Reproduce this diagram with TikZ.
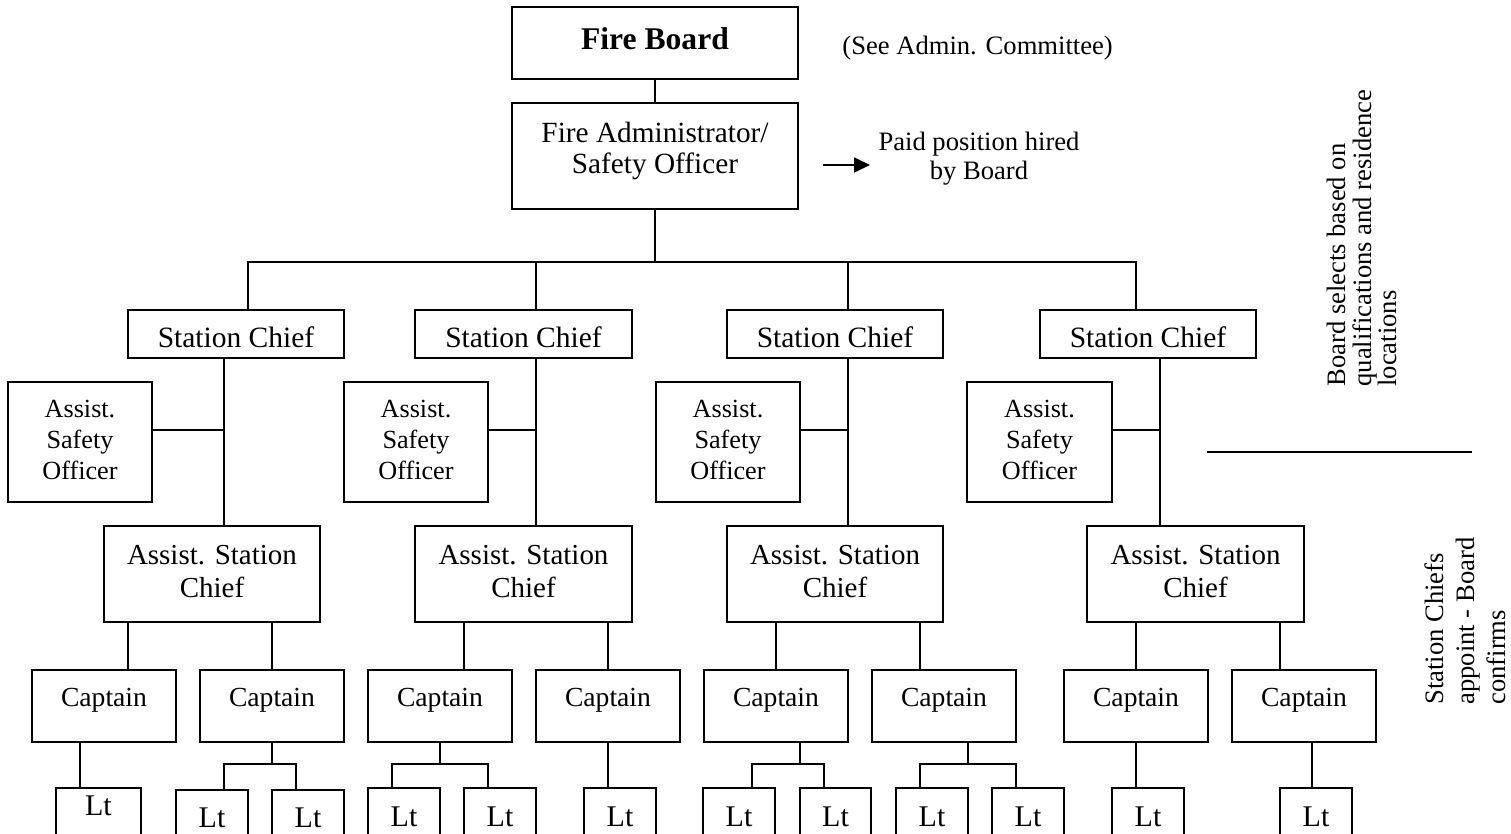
\documentclass[tikz,border=0pt]{standalone}
\usepackage{fontspec}
\setmainfont{Liberation Serif}
\usetikzlibrary{arrows.meta}
\newcommand\orgbox[7][]{%
  \node[box,#1,minimum width={(#5-#3)*0.5pt},minimum height={(#6-#4)*0.5pt}] (#2) at ({(#3+#5)/2},{(#4+#6)/2}) {#7};}
\begin{document}
\begin{tikzpicture}[x=0.5pt,y=-0.5pt,
  box/.style={draw, line width=0.95pt, inner sep=0pt, align=center},
  fbt/.style={font=\fontsize{15.8}{19}\selectfont\bfseries, text height=7pt, text depth=0pt},
  fat/.style={font=\fontsize{14.65}{15.65}\selectfont},
  sct/.style={font=\fontsize{14.75}{17}\selectfont, text height=14pt, text depth=0pt},
  asot/.style={font=\fontsize{13.1}{15.3}\selectfont},
  asct/.style={font=\fontsize{14.5}{16.5}\selectfont},
  capt/.style={font=\fontsize{13.8}{16}\selectfont, text height=9pt, text depth=8.3pt},
  ltt/.style={font=\fontsize{15}{17}\selectfont, text height=7pt, text depth=0pt},
  note/.style={font=\fontsize{13.3}{14.75}\selectfont, inner sep=0pt, align=center},
  side/.style={font=\fontsize{13.3}{12.75}\selectfont, inner sep=0pt, align=left, rotate=90, anchor=north west},
  link/.style={line width=0.9pt}]
\useasboundingbox (0,0) rectangle (1511,834);
\fill[white] (0,0) rectangle (1511,834);
\clip (0,0) rectangle (1511,834);

% top
\orgbox[fbt]{FB}{512}{7}{798}{79}{Fire Board}
\orgbox[fat]{FA}{512}{103}{798}{209}{Fire Administrator/\\Safety Officer\rule[-8.5pt]{0pt}{0pt}}
\node[note, anchor=base west] (see) at (842,55) {(See Admin. Committee)};
\node[note] (paid) at (979,158.5) {Paid position hired\\by Board};
\coordinate (arrS) at (823,165);
\coordinate (arrE) at (870,165);
\draw[link,-{Triangle[length=8pt,width=7.5pt]}] (arrS) -- (arrE);

% station chiefs
\orgbox[sct]{SC1}{128}{310}{344}{358}{Station Chief}
\orgbox[sct]{SC2}{415}{310}{632}{358}{Station Chief}
\orgbox[sct]{SC3}{727}{310}{943}{358}{Station Chief}
\orgbox[sct]{SC4}{1040}{310}{1256}{358}{Station Chief}

% assist. safety officers
\orgbox[asot]{ASO1}{8}{382}{152}{502}{Assist.\\Safety\\Officer\rule[-2.2pt]{0pt}{0pt}}
\orgbox[asot]{ASO2}{344}{382}{488}{502}{Assist.\\Safety\\Officer\rule[-2.2pt]{0pt}{0pt}}
\orgbox[asot]{ASO3}{656}{382}{800}{502}{Assist.\\Safety\\Officer\rule[-2.2pt]{0pt}{0pt}}
\orgbox[asot]{ASO4}{967}{382}{1112}{502}{Assist.\\Safety\\Officer\rule[-2.2pt]{0pt}{0pt}}

% assist. station chiefs
\orgbox[asct]{ASC1}{104}{526}{320}{622}{Assist. Station\\Chief\rule[-2.3pt]{0pt}{0pt}}
\orgbox[asct]{ASC2}{415}{526}{632}{622}{Assist. Station\\Chief\rule[-2.3pt]{0pt}{0pt}}
\orgbox[asct]{ASC3}{727}{526}{943}{622}{Assist. Station\\Chief\rule[-2.3pt]{0pt}{0pt}}
\orgbox[asct]{ASC4}{1087}{526}{1304}{622}{Assist. Station\\Chief\rule[-2.3pt]{0pt}{0pt}}

% captains
\orgbox[capt]{Cap1}{32}{670}{176}{742}{Captain}
\orgbox[capt]{Cap2}{200}{670}{344}{742}{Captain}
\orgbox[capt]{Cap3}{368}{670}{512}{742}{Captain}
\orgbox[capt]{Cap4}{536}{670}{680}{742}{Captain}
\orgbox[capt]{Cap5}{704}{670}{848}{742}{Captain}
\orgbox[capt]{Cap6}{872}{670}{1016}{742}{Captain}
\orgbox[capt]{Cap7}{1064}{670}{1208}{742}{Captain}
\orgbox[capt]{Cap8}{1232}{670}{1376}{742}{Captain}

% lieutenants
\orgbox[ltt,text depth=11pt]{Lt1}{56}{788}{141}{850}{Lt}
\orgbox[ltt]{Lt2}{176}{790}{248}{850}{Lt}
\orgbox[ltt]{Lt3}{272}{790}{344}{850}{Lt}
\orgbox[ltt]{Lt4}{368}{788}{440}{850}{Lt}
\orgbox[ltt]{Lt5}{464}{788}{536}{850}{Lt}
\orgbox[ltt]{Lt6}{584}{788}{656}{850}{Lt}
\orgbox[ltt]{Lt7}{703}{788}{775}{850}{Lt}
\orgbox[ltt]{Lt8}{800}{788}{871}{850}{Lt}
\orgbox[ltt]{Lt9}{896}{788}{968}{850}{Lt}
\orgbox[ltt]{Lt10}{992}{788}{1064}{850}{Lt}
\orgbox[ltt]{Lt11}{1112}{788}{1184}{850}{Lt}
\orgbox[ltt]{Lt12}{1280}{788}{1352}{850}{Lt}

% connectors: board to administrator to stations
\draw[link] (FB.south) -- (FA.north);
\coordinate (bL) at (248,262);
\coordinate (b2) at (536,262);
\coordinate (b3) at (848,262);
\coordinate (bR) at (1136,262);
\draw[link] (FA.south) -- (FA.south |- bL);
\draw[link] (bL |- SC1.north) -- (bL) -- (bR) -- (bR |- SC4.north);
\draw[link] (b2) -- (b2 |- SC2.north);
\draw[link] (b3) -- (b3 |- SC3.north);

% station chief to assist. station chief, with assist. safety officer
\coordinate (v1) at (224,430);
\coordinate (v2) at (536,430);
\coordinate (v3) at (848,430);
\coordinate (v4) at (1160,430);
\draw[link] (v1 |- SC1.south) -- (v1 |- ASC1.north);
\draw[link] (v2 |- SC2.south) -- (v2 |- ASC2.north);
\draw[link] (v3 |- SC3.south) -- (v3 |- ASC3.north);
\draw[link] (v4 |- SC4.south) -- (v4 |- ASC4.north);
\draw[link] (ASO1.east |- v1) -- (v1);
\draw[link] (ASO2.east |- v2) -- (v2);
\draw[link] (ASO3.east |- v3) -- (v3);
\draw[link] (ASO4.east |- v4) -- (v4);

% assist. station chief to captains
\foreach \p/\c/\x in {ASC1/Cap1/128, ASC1/Cap2/272, ASC2/Cap3/464, ASC2/Cap4/608,
                      ASC3/Cap5/776, ASC3/Cap6/920, ASC4/Cap7/1136, ASC4/Cap8/1280}
  \draw[link] (\x,0 |- \p.south) -- (\x,0 |- \c.north);

% captains to lieutenants
\draw[link] (80,0 |- Cap1.south) -- (80,0 |- Lt1.north);
\draw[link] (608,0 |- Cap4.south) -- (608,0 |- Lt6.north);
\draw[link] (1136,0 |- Cap7.south) -- (1136,0 |- Lt11.north);
\draw[link] (1312,0 |- Cap8.south) -- (1312,0 |- Lt12.north);
\coordinate (j2) at (272,764);
\coordinate (j3) at (440,764);
\coordinate (j5) at (800,764);
\coordinate (j6) at (968,764);
\draw[link] (j2 |- Cap2.south) -- (j2);
\draw[link] (224,0 |- Lt2.north) |- (j2 -| 296,0) -- (296,0 |- Lt3.north);
\draw[link] (j3 |- Cap3.south) -- (j3);
\draw[link] (392,0 |- Lt4.north) |- (j3 -| 488,0) -- (488,0 |- Lt5.north);
\draw[link] (j5 |- Cap5.south) -- (j5);
\draw[link] (752,0 |- Lt7.north) |- (j5 -| 824,0) -- (824,0 |- Lt8.north);
\draw[link] (j6 |- Cap6.south) -- (j6);
\draw[link] (920,0 |- Lt9.north) |- (j6 -| 1016,0) -- (1016,0 |- Lt10.north);

% right-hand notes
\node[side] (sel) at (1327,387) {Board selects based on\\qualifications and residence\\locations};
\coordinate (dvL) at (1207,452);
\coordinate (dvR) at (1472,452);
\draw[link] (dvL) -- (dvR);
\node[side, font=\fontsize{13.3}{15.5}\selectfont] (appt) at (1424,705) {Station Chiefs\\appoint - Board\\confirms};
\end{tikzpicture}
\end{document}
